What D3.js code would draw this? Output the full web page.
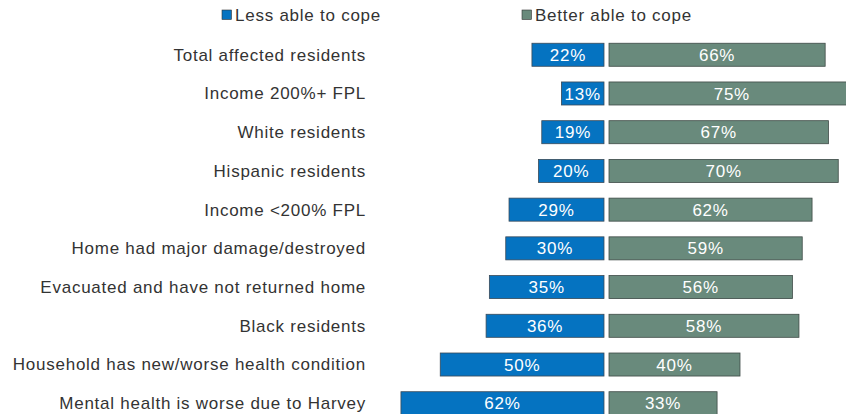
<!DOCTYPE html>
<html>
<head>
<meta charset="utf-8">
<script src="https://cdn.jsdelivr.net/npm/d3@7"></script>
<style>
  html, body { margin: 0; padding: 0; background: #fff; }
  svg { display: block; }
  text { font-family: "Liberation Sans", Arial, sans-serif; letter-spacing: 0.75px; }
</style>
</head>
<body>
<svg id="chart" width="846" height="414"></svg>
<script>
// Share of affected residents by how able they feel to cope
const categories = [
  "Total affected residents",
  "Income 200%+ FPL",
  "White residents",
  "Hispanic residents",
  "Income <200% FPL",
  "Home had major damage/destroyed",
  "Evacuated and have not returned home",
  "Black residents",
  "Household has new/worse health condition",
  "Mental health is worse due to Harvey"
];
const lessAble = [22, 13, 19, 20, 29, 30, 35, 36, 50, 62];
const betterAble = [66, 75, 67, 70, 62, 59, 56, 58, 40, 33];
const seriesNames = ["Less able to cope", "Better able to cope"];
const seriesColors = ["#0573C1", "#698A7C"];

const svg = d3.select("#chart");
const fontSize = 17;
const centerLeft = 604;   // right edge of the "less able" bars
const centerRight = 609;  // left edge of the "better able" bars
const pxPerPoint = 3.275;

const xLeft = d3.scaleLinear().domain([0, 100]).range([centerLeft, centerLeft - 100 * pxPerPoint]);
const xRight = d3.scaleLinear().domain([0, 100]).range([centerRight, centerRight + 100 * pxPerPoint]);
const y = d3.scaleBand().domain(categories).range([35.5, 422.5]).paddingInner(0.405).paddingOuter(0.2);

// Category labels
svg.append("g").selectAll("text")
  .data(categories)
  .join("text")
  .attr("x", 366)
  .attr("y", d => y(d) + y.bandwidth() / 2)
  .attr("dy", "0.35em")
  .attr("text-anchor", "end")
  .attr("fill", "#333")
  .style("font-size", fontSize + "px")
  .text(d => d);

const rows = categories.map((c, i) => ({ c, less: lessAble[i], better: betterAble[i] }));

// Left bars
const gL = svg.append("g");
gL.selectAll("rect").data(rows).join("rect")
  .attr("x", d => xLeft(d.less))
  .attr("y", d => y(d.c))
  .attr("width", d => xLeft(0) - xLeft(d.less))
  .attr("height", y.bandwidth())
  .attr("fill", seriesColors[0])
  .attr("stroke", "#3a4a58")
  .attr("stroke-width", 0.8);
gL.selectAll("text").data(rows).join("text")
  .attr("x", d => (xLeft(d.less) + xLeft(0)) / 2)
  .attr("y", d => y(d.c) + y.bandwidth() / 2)
  .attr("dy", "0.36em")
  .attr("text-anchor", "middle")
  .attr("fill", "#fff")
  .style("font-size", fontSize + "px")
  .text(d => d.less + "%");

// Right bars
const gR = svg.append("g");
gR.selectAll("rect").data(rows).join("rect")
  .attr("x", xRight(0))
  .attr("y", d => y(d.c))
  .attr("width", d => xRight(d.better) - xRight(0))
  .attr("height", y.bandwidth())
  .attr("fill", seriesColors[1])
  .attr("stroke", "#3e4a46")
  .attr("stroke-width", 0.8);
gR.selectAll("text").data(rows).join("text")
  .attr("x", d => (xRight(0) + xRight(d.better)) / 2)
  .attr("y", d => y(d.c) + y.bandwidth() / 2)
  .attr("dy", "0.36em")
  .attr("text-anchor", "middle")
  .attr("fill", "#fff")
  .style("font-size", fontSize + "px")
  .text(d => d.better + "%");

// Legend
const legendX = [222, 522];
const legend = svg.append("g").selectAll("g")
  .data(seriesNames)
  .join("g")
  .attr("transform", (d, i) => `translate(${legendX[i]},10)`);
legend.append("rect")
  .attr("width", 9.5).attr("height", 9.5)
  .attr("fill", (d, i) => seriesColors[i])
  .attr("stroke", "#333").attr("stroke-width", 0.6);
legend.append("text")
  .attr("x", 13).attr("y", 5)
  .attr("dy", "0.35em")
  .attr("fill", "#333")
  .style("font-size", fontSize + "px")
  .text(d => d);
</script>
</body>
</html>
